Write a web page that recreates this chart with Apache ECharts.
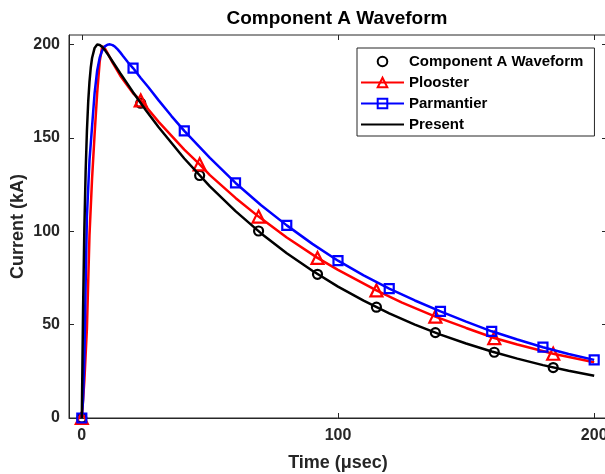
<!DOCTYPE html>
<html><head><meta charset="utf-8">
<script src="https://cdn.jsdelivr.net/npm/echarts@6/dist/echarts.min.js"></script>
<style>html,body{margin:0;padding:0;background:#fff}#c{width:605px;height:474px}</style>
</head><body><div id="c"></div>
<script>
// tick labels
const xTicks = [0, 100, 200];
const yTicks = [0, 50, 100, 150, 200];

// Component A Waveform (circle markers)
const waveT = [0, 23, 46, 69, 92, 115, 138, 161, 184];
const waveI = [0, 168.5, 129.8, 100.1, 76.9, 59.3, 45.7, 35.2, 27.0];

// Plooster (red, triangles)
const ploosterT = [0, 1, 2, 3, 4, 5, 6, 7, 8, 9, 10, 12, 15, 18, 20, 23, 30, 40, 46, 50, 60, 69, 80, 92, 100, 115, 125, 138, 150, 161, 170, 184, 200];
const ploosterI = [0, 20, 48, 98, 128, 152, 174, 191, 199, 197.8, 195.4, 190.2, 183.2, 177.5, 173.8, 170.0, 158.5, 143.6, 135.8, 130.0, 117.8, 107.8, 96.6, 85.7, 79.3, 68.3, 61.8, 54.3, 48.2, 42.8, 39.3, 34.4, 29.8];
const ploosterMarkT = [0, 23, 46, 69, 92, 115, 138, 161, 184];

// Parmantier (blue, squares)
const parmT = [0, 0.5, 1, 1.5, 2, 3, 4, 5, 6, 7, 8, 9, 10, 11, 12, 13, 14, 15, 16, 18, 20, 23, 26, 30, 35, 40, 50, 60, 70, 80, 90, 100, 110, 120, 130, 140, 150, 160, 170, 180, 190, 200];
const parmI = [0, 10, 32, 72, 108, 138, 156, 174, 186, 193, 196.8, 198.9, 199.8, 200, 199.6, 198.7, 197.3, 195.7, 193.9, 190.4, 187.3, 182.0, 177.0, 170.0, 161.6, 153.7, 139.2, 125.8, 113.9, 103.1, 93.2, 84.2, 76.3, 69.2, 62.9, 57.1, 51.6, 46.4, 42.0, 37.9, 34.3, 31.1];
const parmMarkT = [0, 20, 40, 60, 80, 100, 120, 140, 160, 180, 200];

// Present (black line)
const presentT = [0, 0.5, 1, 1.5, 2, 2.5, 3, 3.5, 4, 5, 6, 7, 8, 9, 10, 12, 15, 20, 25, 30, 40, 50, 60, 70, 80, 90, 100, 110, 120, 130, 140, 150, 160, 170, 180, 190, 200];
const presentI = [0, 59.2, 101.8, 132.2, 153.9, 169.3, 180.1, 187.6, 192.7, 198.1, 199.9, 199.7, 198.6, 196.9, 195.0, 190.8, 184.5, 174.4, 164.7, 155.6, 138.9, 124.0, 110.7, 98.8, 88.2, 78.8, 70.3, 62.8, 56.0, 50.0, 44.6, 39.9, 35.6, 31.8, 28.3, 25.3, 22.6];

const FONT = '"Liberation Sans", Arial, Helvetica, sans-serif';
const AX = '#262626';

function build(ts, vs, marks) {
  return ts.map((t, i) => marks.indexOf(t) >= 0 ? { value: [t, vs[i]] } : { value: [t, vs[i]], symbol: 'none' });
}

const chart = echarts.init(document.getElementById('c'), null, { renderer: 'canvas' });

function valueAxisX(pos, withLabels) {
  return {
    type: 'value', min: -5, max: 205, position: pos,
    axisLine: { show: withLabels, onZero: false, lineStyle: { color: AX, width: 1 } },
    axisTick: { show: true, inside: true, length: 5, customValues: xTicks, lineStyle: { color: AX } },
    axisLabel: { show: withLabels, customValues: xTicks, fontSize: 16, fontWeight: 'bold', color: AX, margin: 10, fontFamily: FONT },
    splitLine: { show: false },
    name: withLabels ? 'Time (μsec)' : '', nameLocation: 'middle', nameGap: 36, nameMoveOverlap: false,
    nameTextStyle: { fontSize: 18, fontWeight: 'bold', color: AX, fontFamily: FONT }
  };
}
function valueAxisY(pos, withLabels) {
  return {
    type: 'value', min: 0, max: 205, position: pos,
    axisLine: { show: withLabels, onZero: false, lineStyle: { color: AX, width: 1 } },
    axisTick: { show: true, inside: true, length: 5, customValues: yTicks, lineStyle: { color: AX } },
    axisLabel: { show: withLabels, customValues: yTicks, fontSize: 16, fontWeight: 'bold', color: AX, margin: 9, fontFamily: FONT },
    splitLine: { show: false },
    name: withLabels ? 'Current (kA)' : '', nameLocation: 'middle', nameGap: 42, nameRotate: 90, nameMoveOverlap: false,
    nameTextStyle: { fontSize: 18, fontWeight: 'bold', color: AX, fontFamily: FONT }
  };
}

chart.setOption({
  animation: false,
  backgroundColor: '#fff',
  title: {
    text: 'Component A Waveform', left: 332, top: 4, textAlign: 'center',
    textStyle: { fontSize: 19, fontWeight: 'bold', color: '#000', fontFamily: FONT }
  },
  grid: { left: 69, right: -2, top: 35, bottom: 56, show: true, borderColor: AX, borderWidth: 1, backgroundColor: 'transparent', containLabel: false, outerBoundsMode: 'none' },
  xAxis: [valueAxisX('bottom', true), valueAxisX('top', false)],
  yAxis: [valueAxisY('left', true), valueAxisY('right', false)],
  legend: {
    orient: 'vertical', left: 357, top: 48,
    padding: [6, 11, 4, 3],
    itemWidth: 43, itemHeight: 12, itemGap: 6,
    borderColor: AX, borderWidth: 1, backgroundColor: '#fff',
    textStyle: { fontSize: 15, fontWeight: 'bold', color: '#000', fontFamily: FONT },
    data: [
      'Component A Waveform',
      'Plooster',
      'Parmantier',
      { name: 'Present', itemStyle: { opacity: 0, color: 'rgba(0,0,0,0)', borderWidth: 0 } }
    ]
  },
  series: [
    {
      name: 'Component A Waveform', type: 'line',
      data: waveT.map((t, i) => [t, waveI[i]]),
      symbol: 'circle', symbolSize: 9, showAllSymbol: true,
      color: '#000',
      lineStyle: { width: 0, opacity: 0, color: '#000' },
      itemStyle: { color: 'rgba(0,0,0,0)', borderColor: '#000', borderWidth: 2.2 },
      emphasis: { disabled: true }, z: 2
    },
    {
      name: 'Plooster', type: 'line',
      data: build(ploosterT, ploosterI, ploosterMarkT),
      symbol: 'triangle', symbolSize: 12, showAllSymbol: true,
      color: '#ff0000',
      lineStyle: { width: 2.5, color: '#ff0000' },
      itemStyle: { color: 'rgba(255,255,255,0)', borderColor: '#ff0000', borderWidth: 2.2 },
      emphasis: { disabled: true }, z: 3
    },
    {
      name: 'Parmantier', type: 'line',
      data: build(parmT, parmI, parmMarkT),
      symbol: 'rect', symbolSize: 9, showAllSymbol: true,
      color: '#0000ff',
      lineStyle: { width: 2.5, color: '#0000ff' },
      itemStyle: { color: 'rgba(255,255,255,0)', borderColor: '#0000ff', borderWidth: 2.2 },
      emphasis: { disabled: true }, z: 4
    },
    {
      name: 'Present', type: 'line',
      data: presentT.map((t, i) => [t, presentI[i]]),
      symbol: 'none',
      color: '#000',
      lineStyle: { width: 2.5, color: '#000' },
      emphasis: { disabled: true }, z: 5
    }
  ]
});
</script>
</body></html>
